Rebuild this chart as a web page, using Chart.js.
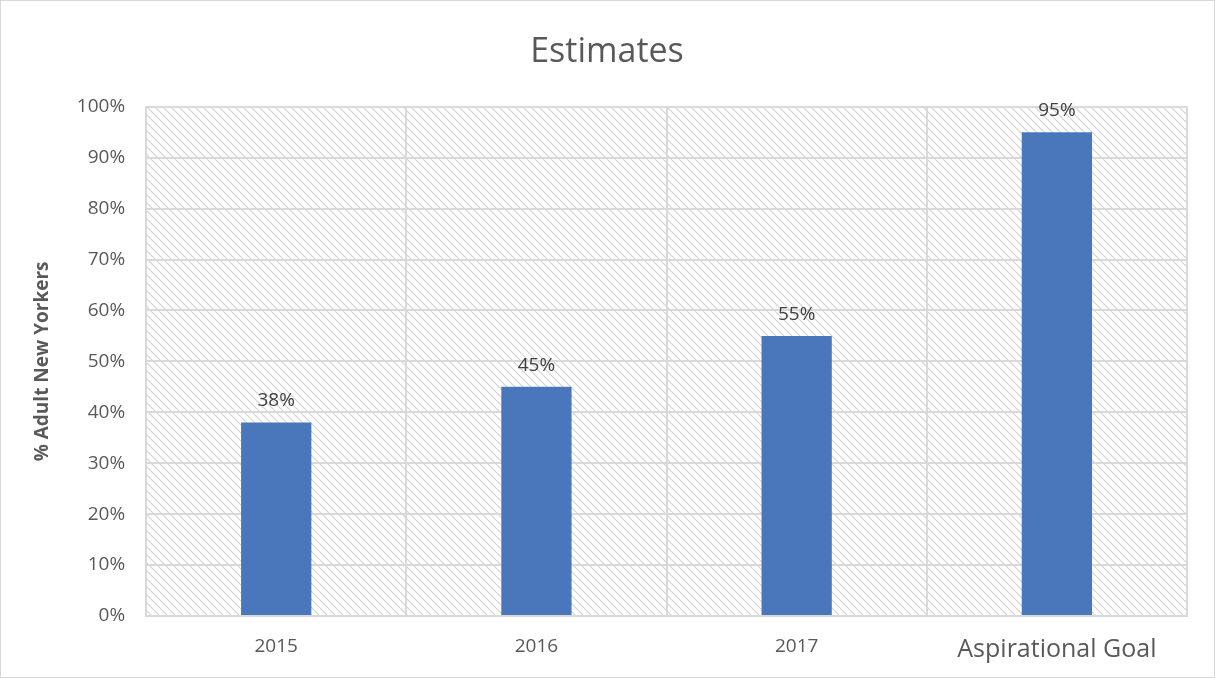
<!DOCTYPE html>
<html>
<head>
<meta charset="utf-8">
<script src="https://cdn.jsdelivr.net/npm/chart.js@4.4.0/dist/chart.umd.min.js"></script>
<style>
  html, body { margin: 0; padding: 0; background: #fff; }
  #wrap { width: 1213px; height: 676px; border: 1px solid #d9d9d9; }
</style>
</head>
<body>
<div id="wrap"><canvas id="myChart" width="1213" height="676"></canvas></div>
<script>
// 데이터
const labels = ['2015', '2016', '2017', 'Aspirational Goal'];
const values = [38, 45, 55, 95];
const yTicks = [0, 10, 20, 30, 40, 50, 60, 70, 80, 90, 100];

const FONT = '"Open Sans", "DejaVu Sans", sans-serif';

// 빗금 배경 패턴
function makeHatch() {
    const c = document.createElement('canvas');
    c.width = 8; c.height = 8;
    const g = c.getContext('2d');
    g.fillStyle = '#ffffff';
    g.fillRect(0, 0, 8, 8);
    g.strokeStyle = '#d3d3d3';
    g.lineWidth = 1.2;
    g.beginPath();
    g.moveTo(-2, -2); g.lineTo(10, 10);
    g.moveTo(-2, 6); g.lineTo(2, 10);
    g.moveTo(6, -2); g.lineTo(10, 2);
    g.stroke();
    return c;
}

const hatchPlugin = {
    id: 'hatch',
    beforeDraw(chart) {
        const { ctx, chartArea: a } = chart;
        ctx.save();
        ctx.fillStyle = ctx.createPattern(makeHatch(), 'repeat');
        ctx.fillRect(a.left, a.top, a.right - a.left, a.bottom - a.top);
        ctx.restore();
    }
};

// 막대 위 값 표시
const valueLabels = {
    id: 'valueLabels',
    afterDatasetsDraw(chart) {
        const ctx = chart.ctx;
        const meta = chart.getDatasetMeta(0);
        ctx.save();
        ctx.font = '19px ' + FONT;
        ctx.fillStyle = '#404040';
        ctx.textAlign = 'center';
        ctx.textBaseline = 'bottom';
        meta.data.forEach((bar, i) => {
            ctx.fillText(values[i] + '%', bar.x, bar.y - 12);
        });
        ctx.restore();
    }
};

const data = {
    labels: labels,
    datasets: [{
        data: values,
        backgroundColor: '#4a77bb',
        categoryPercentage: 1,
        barPercentage: 0.27
    }]
};

const config = {
    type: 'bar',
    data: data,
    plugins: [hatchPlugin, valueLabels],
    options: {
        responsive: false,
        animation: false,
        layout: { padding: { top: 17, right: 27, bottom: -7, left: 26 } },
        plugins: {
            legend: { display: false },
            tooltip: { enabled: false },
            title: {
                display: true,
                text: 'Estimates',
                color: '#595959',
                font: { size: 34, family: FONT, weight: 'normal' },
                padding: { top: 14, bottom: 34 }
            }
        },
        scales: {
            x: {
                grid: { color: '#d9d9d9', lineWidth: 2, offset: true, drawTicks: false },
                border: { color: '#d9d9d9', width: 2 },
                ticks: {
                    color: '#595959',
                    padding: 19,
                    font: (c) => ({
                        size: c.index === 3 ? 25 : 19,
                        family: FONT
                    })
                }
            },
            y: {
                min: 0,
                max: 100,
                afterBuildTicks: (axis) => { axis.ticks = yTicks.map(v => ({ value: v })); },
                grid: { color: '#d9d9d9', lineWidth: 2, drawTicks: false },
                border: { color: '#d9d9d9', width: 2 },
                ticks: {
                    color: '#595959',
                    padding: 21,
                    font: { size: 19, family: FONT },
                    callback: (v) => v + '%'
                },
                title: {
                    display: true,
                    text: '% Adult New Yorkers',
                    color: '#595959',
                    font: { size: 19, weight: 'bold', family: FONT },
                    padding: { bottom: 2 }
                }
            }
        }
    }
};

const myChart = new Chart(document.getElementById('myChart'), config);
</script>
</body>
</html>
